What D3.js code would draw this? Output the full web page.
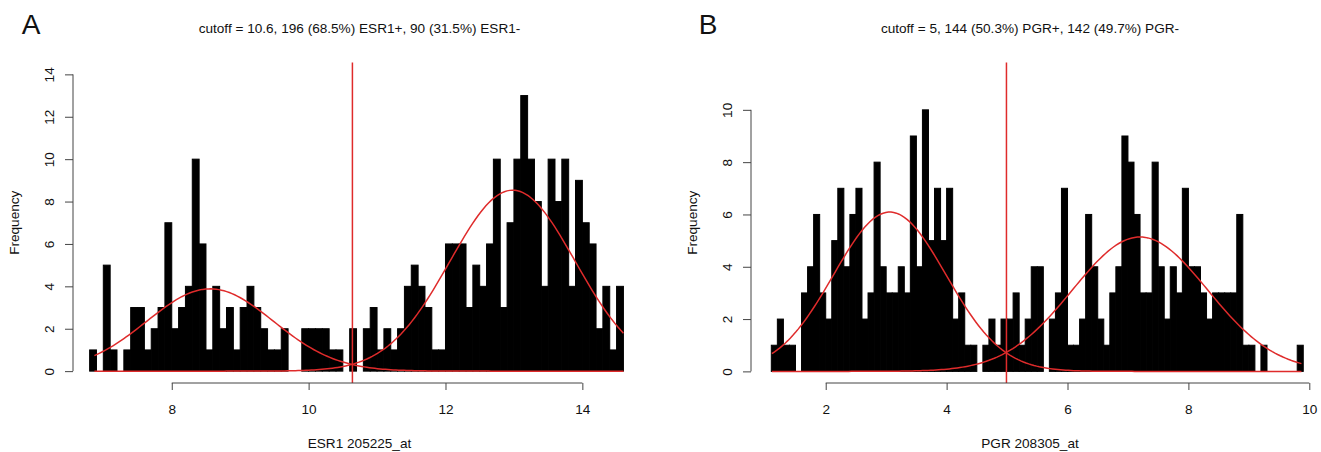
<!DOCTYPE html>
<html>
<head>
<meta charset="utf-8">
<script src="https://cdn.jsdelivr.net/npm/d3@7"></script>
<style>
  body { margin: 0; background: #fff; }
  text { font-family: "Liberation Sans", Arial, sans-serif; fill: #111; }
</style>
</head>
<body>
<div id="chart"></div>
<script>
// Histogram counts, bin width 0.1
var esrBinStart = 6.8;
var esrCounts = [1,0,5,1,0,1,3,3,1,2, 3,7,2,3,4,10,6,1,4,2, 3,1,3,4,3,2,1,1,2,0,
                 0,2,2,2,2,1,1,0,2,0, 2,3,1,2,1,2,4,5,4,3, 1,1,6,6,6,3,5,4,6,10,
                 3,7,10,13,10,8,4,10,8,10, 4,9,7,6,2,4,1,4];
var pgrBinStart = 1.1;
var pgrCounts = [1,2,1,1,0,3,4,6,3,2, 5,7,4,6,7,2,3,8,4,3, 3,4,3,9,4,10,5,7,5,7,
                 2,3,1,1,0,1,2,1,2,2, 3,1,2,4,4,0,2,3,7,1, 1,2,6,4,2,1,3,4,9,8,
                 6,3,3,8,4,2,4,3,7,4, 4,3,2,3,3,3,3,6,1,1, 0,1,0,0,0,0,0,1];
var binWidth = 0.1;

// fitted two-component normal mixtures (low, high)
var esrMeans = [8.56, 12.98];
var esrSds = [0.925, 0.916];
var esrSizes = [90, 196];
var esrRange = [6.87, 14.6];
var esrCutoff = 10.64;

var pgrMeans = [3.06, 7.2];
var pgrSds = [0.93, 1.118];
var pgrSizes = [142, 144];
var pgrRange = [1.11, 9.87];
var pgrCutoff = 4.99;

var esrXTicks = [8, 10, 12, 14];
var esrYTicks = [0, 2, 4, 6, 8, 10, 12, 14];
var pgrXTicks = [2, 4, 6, 8, 10];
var pgrYTicks = [0, 2, 4, 6, 8, 10];

var panels = [
  {letter: "A", title: "cutoff = 10.6, 196 (68.5%) ESR1+, 90 (31.5%) ESR1-", xlab: "ESR1 205225_at",
   counts: esrCounts, binStart: esrBinStart, means: esrMeans, sds: esrSds, sizes: esrSizes,
   range: esrRange, cutoff: esrCutoff, xTicks: esrXTicks, yTicks: esrYTicks,
   xDomain: [6.557, 14.93], xRange: [73, 646], yDomain: [-0.56, 14.56], letterX: 31},
  {letter: "B", title: "cutoff = 5, 144 (50.3%) PGR+, 142 (49.7%) PGR-", xlab: "PGR 208305_at",
   counts: pgrCounts, binStart: pgrBinStart, means: pgrMeans, sds: pgrSds, sizes: pgrSizes,
   range: pgrRange, cutoff: pgrCutoff, xTicks: pgrXTicks, yTicks: pgrYTicks,
   xDomain: [0.764, 9.995], xRange: [751, 1309], yDomain: [-0.444, 11.81], letterX: 708}
];

var svgWidth = 1321;
var svgHeight = 452;
var plotTop = 62.5;
var plotBottom = 383;
var red = "#df2b2b";
var fontSize = "13.6px";

var svg = d3.select("#chart").append("svg")
  .attr("width", svgWidth)
  .attr("height", svgHeight);

function dnorm(x, m, s) {
  return Math.exp(-0.5 * Math.pow((x - m) / s, 2)) / (s * Math.sqrt(2 * Math.PI));
}

panels.forEach(function(p) {
  var x = d3.scaleLinear().domain(p.xDomain).range(p.xRange);
  var y = d3.scaleLinear().domain(p.yDomain).range([plotBottom, plotTop]);
  var g = svg.append("g");

  // bars
  g.selectAll("rect.bar")
    .data(p.counts)
    .enter()
    .append("rect")
    .attr("class", "bar")
    .attr("x", (d, i) => x(p.binStart + i * binWidth))
    .attr("width", (d, i) => x(p.binStart + (i + 1) * binWidth) - x(p.binStart + i * binWidth))
    .attr("y", d => y(d))
    .attr("height", d => y(0) - y(d))
    .attr("fill", "#000")
    .attr("stroke", "#000")
    .attr("stroke-width", 1);

  // density curves
  var xs = d3.range(0, 201).map(i => p.range[0] + (p.range[1] - p.range[0]) * i / 200);
  var line = d3.line().x(d => x(d[0])).y(d => y(d[1]));
  p.means.forEach(function(m, k) {
    var pts = xs.map(v => [v, p.sizes[k] * binWidth * dnorm(v, m, p.sds[k])]);
    g.append("path")
      .attr("d", line(pts))
      .attr("fill", "none")
      .attr("stroke", red)
      .attr("stroke-width", 1.5);
  });

  // cutoff line
  g.append("line")
    .attr("x1", x(p.cutoff)).attr("x2", x(p.cutoff))
    .attr("y1", plotTop).attr("y2", plotBottom)
    .attr("stroke", red)
    .attr("stroke-width", 1.5);

  // x axis
  var xAxis = g.append("g")
    .attr("transform", `translate(0, ${plotBottom})`)
    .call(d3.axisBottom(x).tickValues(p.xTicks).tickSize(7).tickFormat(d3.format("d")));
  xAxis.select(".domain").remove();
  xAxis.append("line")
    .attr("x1", x(p.xTicks[0])).attr("x2", x(p.xTicks[p.xTicks.length - 1]))
    .attr("stroke", "#444");
  xAxis.selectAll(".tick line").attr("stroke", "#444");
  xAxis.selectAll("text")
    .attr("y", 26).attr("dy", "0.35em")
    .style("font-size", fontSize).attr("fill", "#111");

  // y axis
  var yAxis = g.append("g")
    .attr("transform", `translate(${p.xRange[0]}, 0)`)
    .call(d3.axisLeft(y).tickValues(p.yTicks).tickSize(8).tickFormat(d3.format("d")));
  yAxis.select(".domain").remove();
  yAxis.append("line")
    .attr("y1", y(p.yTicks[0])).attr("y2", y(p.yTicks[p.yTicks.length - 1]))
    .attr("stroke", "#444");
  yAxis.selectAll(".tick line").attr("stroke", "#444");
  yAxis.selectAll("text")
    .attr("transform", "rotate(-90)")
    .attr("x", 0).attr("y", -19).attr("dy", 0)
    .attr("text-anchor", "middle")
    .style("font-size", fontSize).attr("fill", "#111");

  var cx = (p.xRange[0] + p.xRange[1]) / 2;

  // labels
  g.append("text")
    .attr("x", cx).attr("y", 28).attr("dy", "0.35em")
    .attr("text-anchor", "middle")
    .style("font-size", fontSize)
    .text(p.title);

  g.append("text")
    .attr("x", cx).attr("y", 443).attr("dy", "0.35em")
    .attr("text-anchor", "middle")
    .style("font-size", fontSize)
    .text(p.xlab);

  g.append("text")
    .attr("transform", `translate(${p.xRange[0] - 59}, ${(plotTop + plotBottom) / 2}) rotate(-90)`)
    .attr("dy", "0.35em")
    .attr("text-anchor", "middle")
    .style("font-size", fontSize)
    .text("Frequency");

  g.append("text")
    .attr("x", p.letterX).attr("y", 34)
    .attr("text-anchor", "middle")
    .style("font-size", "28px")
    .text(p.letter);
});
</script>
</body>
</html>
